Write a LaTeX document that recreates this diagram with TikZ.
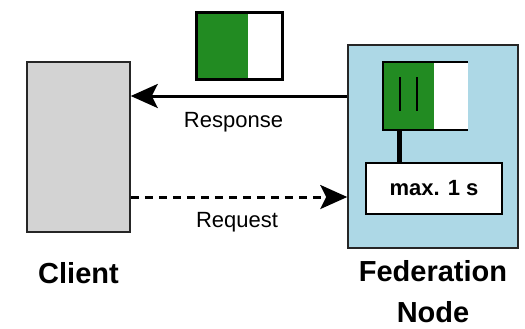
\documentclass[tikz,border=0pt]{standalone}
\usepackage{fontspec}
\setmainfont{Liberation Sans}
\usetikzlibrary{arrows.meta}
\definecolor{boxgray}{HTML}{D3D3D3}
\definecolor{fedblue}{HTML}{ADD8E6}
\definecolor{msggreen}{HTML}{228B22}
\begin{document}
\begin{tikzpicture}[x=1bp,y=-1bp,
  box/.style={draw=black!85,line width=1.5bp,rectangle,inner sep=0pt},
  lbl/.style={font=\fontsize{22bp}{26bp}\selectfont,inner sep=0pt,anchor=base},
  biglbl/.style={font=\fontsize{29bp}{34bp}\selectfont\bfseries,inner sep=0pt,anchor=base},
  conn/.style={line width=3bp,-{Stealth[length=27bp,width=24bp,inset=6bp]}},
  halfgreen/.style={path picture={\fill[msggreen] (path picture bounding box.north west) rectangle ([xshift=#1]path picture bounding box.south west);}}
]
\useasboundingbox (0,0) rectangle (525,328);
% Client
\node[box,fill=boxgray,minimum width=103bp,minimum height=170bp] (client) at (78.5,147) {};
% Federation node
\node[box,fill=fedblue,minimum width=170bp,minimum height=203bp] (fed) at (433,146.5) {};
% message in transit
\node[draw=black,line width=3bp,fill=white,halfgreen=52bp,rectangle,inner sep=0pt,minimum width=86bp,minimum height=67bp] (msg) at (239,45.5) {};
% message inside node
\node[fill=white,halfgreen=51bp,rectangle,inner sep=0pt,minimum width=85bp,minimum height=68bp] (inner) at (425.5,96) {};
\draw[line width=2bp,black] (inner.north east) -- (inner.north west) -- (inner.south west) -- (inner.south east);
\coordinate (bar1top) at (400,77);
\coordinate (bar1bot) at (400,111);
\coordinate (bar2top) at (417,77);
\coordinate (bar2bot) at (417,111);
\draw[line width=2bp] (bar1top) -- (bar1bot);
\draw[line width=2bp] (bar2top) -- (bar2bot);
% timer box
\node[draw=black,line width=1.5bp,fill=white,rectangle,inner sep=0pt,minimum width=136bp,minimum height=51bp,font=\fontsize{22bp}{26bp}\selectfont\bfseries] (timer) at (434,188.5) {max. 1 s};
\coordinate (stem) at ([xshift=17bp]inner.south west);
\draw[line width=5bp] (stem) -- (stem |- timer.north);
% connectors
\draw[conn] (fed.west |- 0,96) -- (client.east |- 0,96);
\draw[conn,dash pattern=on 8bp off 6bp] (client.east |- 0,197) -- (fed.west |- 0,197);
% labels
\node[lbl] (resplbl) at (233.5,127) {Response};
\node[lbl] (reqlbl) at (237,227) {Request};
\node[biglbl] (clientlbl) at (78.5,283) {Client};
\node[biglbl] (fedlbl1) at (433,281) {Federation};
\node[biglbl] (fedlbl2) at (433,322) {Node};
\end{tikzpicture}
\end{document}
